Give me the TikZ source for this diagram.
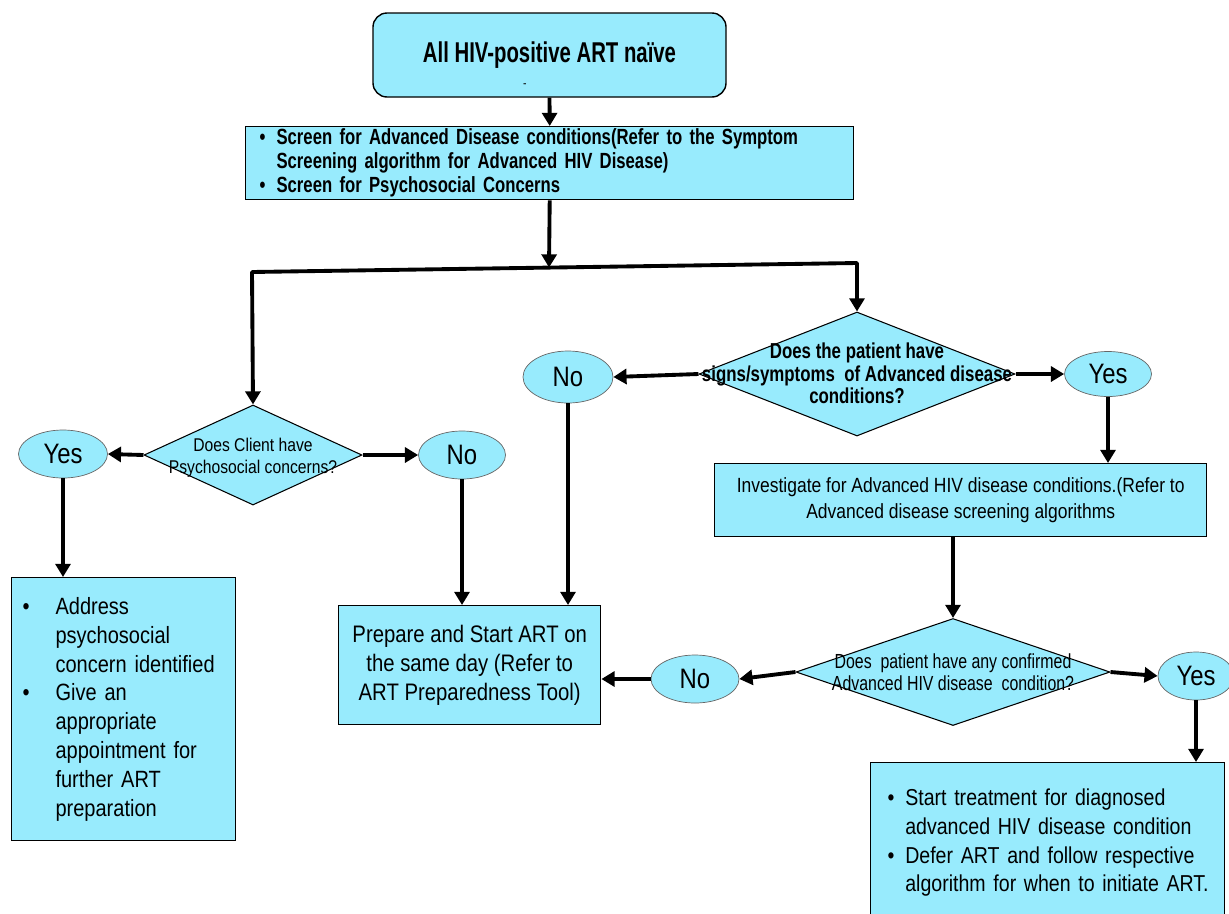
\documentclass[tikz,border=0pt]{standalone}
\usepackage{fontspec}
\setmainfont{Liberation Sans}[FakeStretch=0.85]
\newfontfamily\condensed{Liberation Sans}[FakeStretch=0.76]
\newfontfamily\titlefont{Liberation Sans}[FakeStretch=0.71]
\newfontfamily\askfont{Liberation Sans}[FakeStretch=0.78]
\usetikzlibrary{shapes.geometric,arrows.meta}
\definecolor{boxcyan}{RGB}{152,235,253}
\newcommand{\pxu}{0.02cm}
\newcommand{\bul}[1]{\makebox[#1][l]{\textbullet}}
\newcommand{\bulgap}[1]{\hspace*{#1}}
\newcommand{\nosize}[1]{\smash{\makebox[0pt]{\raisebox{-4.5pt}{\begin{tabular}{@{}c@{}}#1\end{tabular}}}}}
\tikzset{
  box/.style={draw,fill=boxcyan,line width=0.8pt,inner sep=0pt},
  ask/.style={draw,fill=boxcyan,diamond,line width=0.6pt,inner sep=0pt},
  answer/.style={draw=black!60,fill=boxcyan,ellipse,inner sep=0pt,font=\fontsize{16}{18}\selectfont},
  flow/.style={line width=2.2pt,-{Triangle[length=7.5pt,width=8.5pt]}}
}
\begin{document}
\begin{tikzpicture}[x=0.02cm,y=-0.02cm]
\useasboundingbox (0,0) rectangle (1229,913);

\node[box,rounded corners=8pt,minimum width=353*\pxu,minimum height=84*\pxu,
  font=\titlefont\bfseries\fontsize{16.3}{18}\selectfont] (naive) at (549.5,55)
  {\rlap{\smash{\hspace*{57pt}\raisebox{-14pt}{\normalfont\fontsize{7}{7}\selectfont -}}}All HIV-positive ART na\"ive};
\node[box,anchor=north west,inner xsep=14*\pxu,text width=580*\pxu,minimum height=73*\pxu,align=left,
  font=\condensed\bfseries\fontsize{12.5}{13.6}\selectfont] (screen) at (245,126)
  {\bul{9.6pt}Screen for Advanced Disease conditions(Refer to the Symptom\\
   \bulgap{9.6pt}Screening algorithm for Advanced HIV Disease)\\
   \bul{9.6pt}Screen for Psychosocial Concerns};

\coordinate (forkL) at (252,272);
\coordinate (forkR) at (857,263);
\coordinate (split) at (549,267.5);

\node[ask,minimum width=218*\pxu,minimum height=100*\pxu,font=\fontsize{10.5}{12.5}\selectfont] (psy) at (253,455)
  {\nosize{Does Client have\\Psychosocial concerns?}};
\node[answer,minimum width=89*\pxu,minimum height=48*\pxu] (psyYes) at (63,454) {Yes};
\node[answer,minimum width=87*\pxu,minimum height=48*\pxu] (psyNo) at (462,455) {No};

\node[ask,minimum width=316*\pxu,minimum height=124*\pxu,font=\askfont\bfseries\fontsize{12.3}{12.5}\selectfont] (adv) at (857,374)
  {\nosize{Does the patient have\\signs/symptoms \ of Advanced disease\\conditions?}};
\node[answer,minimum width=90*\pxu,minimum height=52*\pxu] (advNo) at (568,377) {No};
\node[answer,minimum width=87*\pxu,minimum height=45*\pxu] (advYes) at (1108,374) {Yes};

\node[box,anchor=north west,minimum width=492*\pxu,minimum height=73*\pxu,align=center,
  font=\fontsize{11.7}{14.7}\selectfont] (inv) at (714,463)
  {Investigate for Advanced HIV disease conditions.(Refer to\\Advanced disease screening algorithms};

\node[ask,minimum width=314*\pxu,minimum height=107*\pxu,font=\askfont\fontsize{11.6}{12.5}\selectfont] (conf) at (953,672)
  {\nosize{Does \ patient have any confirmed\\Advanced HIV disease \ condition?}};
\node[answer,minimum width=88*\pxu,minimum height=48*\pxu] (confNo) at (695,679) {No};
\node[answer,minimum width=76*\pxu,minimum height=48*\pxu] (confYes) at (1196,676) {Yes};

\node[box,anchor=north west,minimum width=262*\pxu,minimum height=119*\pxu,align=center,
  font=\fontsize{13.6}{16.7}\selectfont] (prep) at (338,605)
  {Prepare and Start ART on\\the same day (Refer to\\ART Preparedness Tool)};

\node[box,anchor=north west,inner xsep=11*\pxu,text width=202*\pxu,minimum height=263*\pxu,align=left,
  font=\fontsize{13.4}{16.4}\selectfont] (concern) at (11,577)
  {\bul{18.7pt}Address\\\bulgap{18.7pt}psychosocial\\\bulgap{18.7pt}concern identified\\
   \bul{18.7pt}Give an\\\bulgap{18.7pt}appropriate\\\bulgap{18.7pt}appointment for\\
   \bulgap{18.7pt}further ART\\\bulgap{18.7pt}preparation};

\node[box,anchor=north west,inner xsep=10*\pxu,text width=334*\pxu,minimum height=160*\pxu,align=left,
  font=\fontsize{13.1}{16.4}\selectfont] (treat) at (870,762)
  {\hspace*{4pt}\bul{10pt}Start treatment for diagnosed\\\bulgap{14pt}advanced HIV disease condition\\
   \hspace*{4pt}\bul{10pt}Defer ART and follow respective\\\bulgap{14pt}algorithm for when to initiate ART.};

\draw[flow] (naive.south) -- (screen.north);
\draw[flow] (screen.south) -- (split);
\draw[line width=2.2pt,line cap=round] (forkL) -- (forkR);
\draw[flow] (forkL) -- (psy.north);
\draw[flow] (forkR) -- (adv.north);
\draw[flow] (psy.west) -- (psyYes.east);
\draw[flow] (psy.east) -- (psyNo.west);
\draw[flow] (psyYes.south) -- (psyYes.south |- concern.north);
\draw[flow] (psyNo.south) -- (psyNo.south |- prep.north);
\draw[flow] (adv.west) -- (advNo.east);
\draw[flow] (adv.east) -- (advYes.west);
\draw[flow] (advNo.south) -- (advNo.south |- prep.north);
\draw[flow] (advYes.south) -- (advYes.south |- inv.north);
\draw[flow] (conf.north |- inv.south) -- (conf.north);
\draw[flow] (conf.west) -- (confNo.east);
\draw[flow] (conf.east) -- (confYes.west);
\draw[flow] (confNo.west) -- (confNo.west -| prep.east);
\draw[flow] (confYes.south) -- (confYes.south |- treat.north);

\end{tikzpicture}
\end{document}
